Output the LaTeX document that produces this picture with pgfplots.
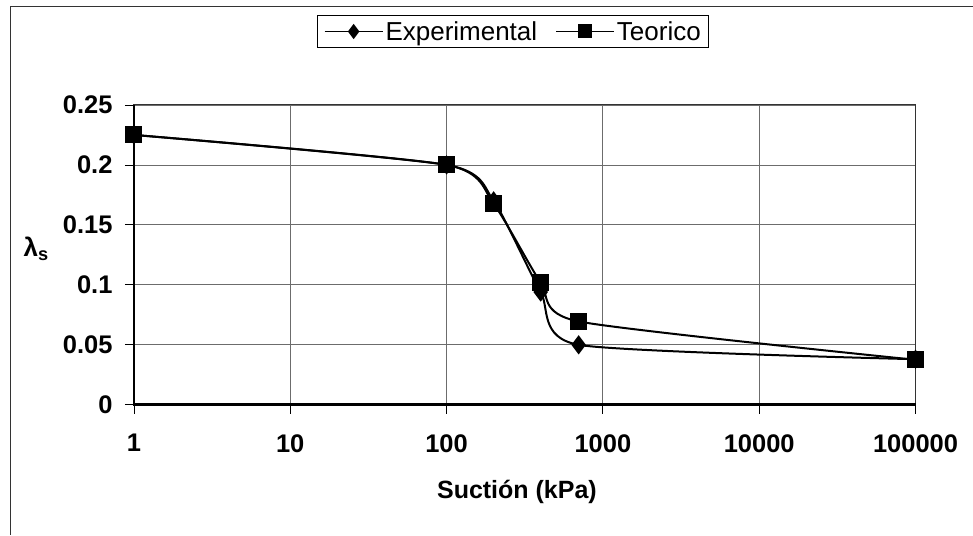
\documentclass[border=0pt]{standalone}
\usepackage{pgfplots}
\pgfplotsset{compat=1.18}
\usepackage{fontspec}
\setmainfont{Liberation Sans}
\begin{document}
\begin{tikzpicture}[x=1bp,y=1bp]
\begin{axis}[
  at={(0,0)}, anchor=south west,
  scale only axis, width=782bp, height=300bp,
  xmode=log, xmin=1, xmax=100000, ymin=0, ymax=0.25,
  xtick={1,10,100,1000,10000,100000},
  xticklabels={1,10,100,1000,10000,100000},
  ytick={0,0.05,0.1,0.15,0.2,0.25},
  yticklabels={0,0.05,0.1,0.15,0.2,0.25},
  xminorticks=false,
  /pgf/number format/assume math mode=true,
  tick align=outside, tick pos=left,
  major tick length=9bp,
  tick style={black, line width=0.8bp},
  grid=major,
  major grid style={gray!85!black, line width=0.8bp},
  axis line style={line width=0.9bp, black!80},
  tick label style={font=\fontsize{25.5bp}{28bp}\selectfont\bfseries},
  xticklabel style={yshift=-17bp},
  yticklabel style={xshift=-9bp},
  xlabel={Suctión (kPa)},
  xlabel style={at={(axis description cs:0.49,-0.29)}, anchor=center, font=\fontsize{25bp}{28bp}\selectfont\bfseries},
  ylabel={λ\textsubscript{s}},
  ylabel style={at={(axis description cs:-0.125,0.52)}, anchor=center, rotate=-90, font=\fontsize{26bp}{28bp}\selectfont\bfseries},
  legend style={at={(axis description cs:0.4853,1.245)}, anchor=center,
    legend columns=2, draw=black, line width=0.8bp,
    font=\fontsize{26bp}{28bp}\selectfont, inner xsep=6bp, inner ysep=4bp,
    /tikz/every even column/.append style={column sep=16bp}},
  legend image code/.code={\draw[#1, line width=1.8bp] (0bp,0bp) -- (58bp,0bp); \path[#1, mark size=6bp] plot coordinates {(29bp,0bp)};},
  clip=false,
]
\addplot[black, line width=2bp, smooth, tension=0.38, mark=diamond*, mark size=8bp, mark options={solid, fill=black}]
coordinates {(1,0.225) (100,0.2) (200,0.17) (400,0.094) (700,0.05) (100000,0.038)};
\addlegendentry{Experimental}
\addplot[black, line width=2bp, smooth, tension=0.38, mark=square*, mark size=7.5bp, mark options={solid, fill=black}]
coordinates {(1,0.225) (100,0.2) (200,0.1675) (400,0.102) (700,0.0695) (100000,0.0375)};
\addlegendentry{Teorico}
\end{axis}
\draw[black, line width=2.6bp] (0,300bp) -- (0,0) -- (782bp,0);
\draw[black!80, line width=1bp] (-123bp,-130bp) -- (-123bp,398bp) -- (839bp,398bp);
\path[use as bounding box] (-134bp,-130bp) rectangle (839bp,405bp);
\end{tikzpicture}
\end{document}
